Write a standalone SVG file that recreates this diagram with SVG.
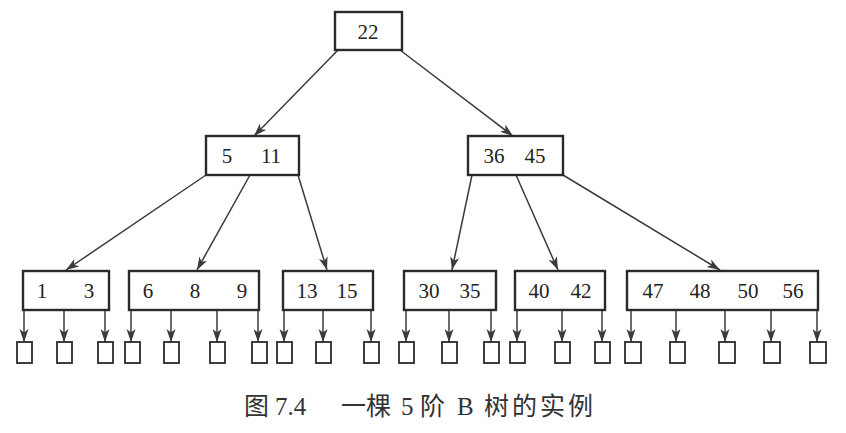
<svg xmlns="http://www.w3.org/2000/svg" width="846" height="433" viewBox="0 0 846 433">
  <style>
    .box { fill: #ffffff; stroke: #2a2a2a; stroke-width: 2.4; }
    .leafbox { fill: #ffffff; stroke: #2a2a2a; stroke-width: 1.8; }
    .edge { stroke: #3a3a3a; stroke-width: 1.5; fill: none; marker-end: url(#arr); }
    .num { font-family: "Liberation Serif", "Times New Roman", serif; font-size: 21px; fill: #222; text-anchor: middle; }
    .cap { font-family: "Liberation Serif", "Noto Sans CJK SC", serif; font-size: 25px; fill: #333; }
  </style>
  <defs>
    <marker id="arr" markerUnits="userSpaceOnUse" markerWidth="14" markerHeight="10" refX="13" refY="5" orient="auto">
      <path d="M0,0.5 L13,5 L0,9.5 L3.5,5 Z" fill="#3a3a3a"/>
    </marker>
  </defs>
  <rect width="846" height="433" fill="#ffffff"/>

  <g id="connectors">
    <line class="edge" x1="338" y1="50" x2="254" y2="136"/>
    <line class="edge" x1="400" y1="50" x2="513" y2="136"/>
    <line class="edge" x1="206" y1="175" x2="66" y2="270"/>
    <line class="edge" x1="250" y1="175" x2="197" y2="270"/>
    <line class="edge" x1="298" y1="175" x2="327" y2="270"/>
    <line class="edge" x1="472" y1="175" x2="452" y2="270"/>
    <line class="edge" x1="516" y1="175" x2="558" y2="270"/>
    <line class="edge" x1="563" y1="175" x2="720" y2="270"/>
    <!-- leaf1 -->
    <line class="edge" x1="24" y1="310" x2="24" y2="342"/>
    <line class="edge" x1="64" y1="310" x2="64" y2="342"/>
    <line class="edge" x1="105" y1="310" x2="105" y2="342"/>
    <!-- leaf2 -->
    <line class="edge" x1="131" y1="310" x2="131" y2="342"/>
    <line class="edge" x1="171" y1="310" x2="171" y2="342"/>
    <line class="edge" x1="217" y1="310" x2="217" y2="342"/>
    <line class="edge" x1="258" y1="310" x2="258" y2="342"/>
    <!-- leaf3 -->
    <line class="edge" x1="284" y1="310" x2="284" y2="342"/>
    <line class="edge" x1="323" y1="310" x2="323" y2="342"/>
    <line class="edge" x1="371" y1="310" x2="371" y2="342"/>
    <!-- leaf4 -->
    <line class="edge" x1="406" y1="310" x2="406" y2="342"/>
    <line class="edge" x1="449" y1="310" x2="449" y2="342"/>
    <line class="edge" x1="491" y1="310" x2="491" y2="342"/>
    <!-- leaf5 -->
    <line class="edge" x1="517" y1="310" x2="517" y2="342"/>
    <line class="edge" x1="562" y1="310" x2="562" y2="342"/>
    <line class="edge" x1="602" y1="310" x2="602" y2="342"/>
    <!-- leaf6 -->
    <line class="edge" x1="631" y1="310" x2="631" y2="342"/>
    <line class="edge" x1="676" y1="310" x2="676" y2="342"/>
    <line class="edge" x1="725" y1="310" x2="725" y2="342"/>
    <line class="edge" x1="771" y1="310" x2="771" y2="342"/>
    <line class="edge" x1="817" y1="310" x2="817" y2="342"/>
  </g>

  <g id="root">
    <rect class="box" x="335" y="12" width="67" height="38"/>
    <text class="num" x="368" y="39">22</text>
  </g>
  <g id="n_5_11">
    <rect class="box" x="206" y="136" width="93" height="39"/>
    <text class="num" x="227" y="163">5</text>
    <text class="num" x="271" y="163">11</text>
  </g>
  <g id="n_36_45">
    <rect class="box" x="468" y="136" width="95" height="39"/>
    <text class="num" x="494" y="163">36</text>
    <text class="num" x="535" y="163">45</text>
  </g>

  <g id="leaf_1_3">
    <rect class="box" x="23" y="271" width="86" height="39"/>
    <text class="num" x="42" y="298">1</text>
    <text class="num" x="89" y="298">3</text>
  </g>
  <g id="leaf_6_8_9">
    <rect class="box" x="129" y="271" width="130" height="39"/>
    <text class="num" x="148" y="298">6</text>
    <text class="num" x="195" y="298">8</text>
    <text class="num" x="242" y="298">9</text>
  </g>
  <g id="leaf_13_15">
    <rect class="box" x="283" y="271" width="90" height="39"/>
    <text class="num" x="307" y="298">13</text>
    <text class="num" x="347" y="298">15</text>
  </g>
  <g id="leaf_30_35">
    <rect class="box" x="404" y="271" width="92" height="39"/>
    <text class="num" x="429" y="298">30</text>
    <text class="num" x="470" y="298">35</text>
  </g>
  <g id="leaf_40_42">
    <rect class="box" x="515" y="271" width="90" height="39"/>
    <text class="num" x="539" y="298">40</text>
    <text class="num" x="581" y="298">42</text>
  </g>
  <g id="leaf_47_48_50_56">
    <rect class="box" x="627" y="271" width="191" height="39"/>
    <text class="num" x="653" y="298">47</text>
    <text class="num" x="700" y="298">48</text>
    <text class="num" x="748" y="298">50</text>
    <text class="num" x="793" y="298">56</text>
  </g>

  <g id="empty_leaves">
    <rect class="leafbox" x="17" y="342" width="15" height="21"/>
    <rect class="leafbox" x="57" y="342" width="15" height="21"/>
    <rect class="leafbox" x="98" y="342" width="15" height="21"/>
    <rect class="leafbox" x="125" y="342" width="15" height="21"/>
    <rect class="leafbox" x="164" y="342" width="15" height="21"/>
    <rect class="leafbox" x="210" y="342" width="15" height="21"/>
    <rect class="leafbox" x="252" y="342" width="15" height="21"/>
    <rect class="leafbox" x="277" y="342" width="15" height="21"/>
    <rect class="leafbox" x="316" y="342" width="15" height="21"/>
    <rect class="leafbox" x="364" y="342" width="15" height="21"/>
    <rect class="leafbox" x="399" y="342" width="15" height="21"/>
    <rect class="leafbox" x="442" y="342" width="15" height="21"/>
    <rect class="leafbox" x="484" y="342" width="15" height="21"/>
    <rect class="leafbox" x="510" y="342" width="15" height="21"/>
    <rect class="leafbox" x="555" y="342" width="15" height="21"/>
    <rect class="leafbox" x="595" y="342" width="15" height="21"/>
    <rect class="leafbox" x="625" y="342" width="16" height="21"/>
    <rect class="leafbox" x="670" y="342" width="15" height="21"/>
    <rect class="leafbox" x="719" y="342" width="16" height="21"/>
    <rect class="leafbox" x="764" y="342" width="16" height="21"/>
    <rect class="leafbox" x="810" y="342" width="16" height="21"/>
  </g>

  <g id="caption">
    <text class="cap" y="415"><tspan x="244">图</tspan><tspan x="275">7.4</tspan><tspan x="341">一棵</tspan><tspan x="401">5</tspan><tspan x="420">阶</tspan><tspan x="457">B</tspan><tspan x="484" letter-spacing="3">树的实例</tspan></text>
  </g>
</svg>
